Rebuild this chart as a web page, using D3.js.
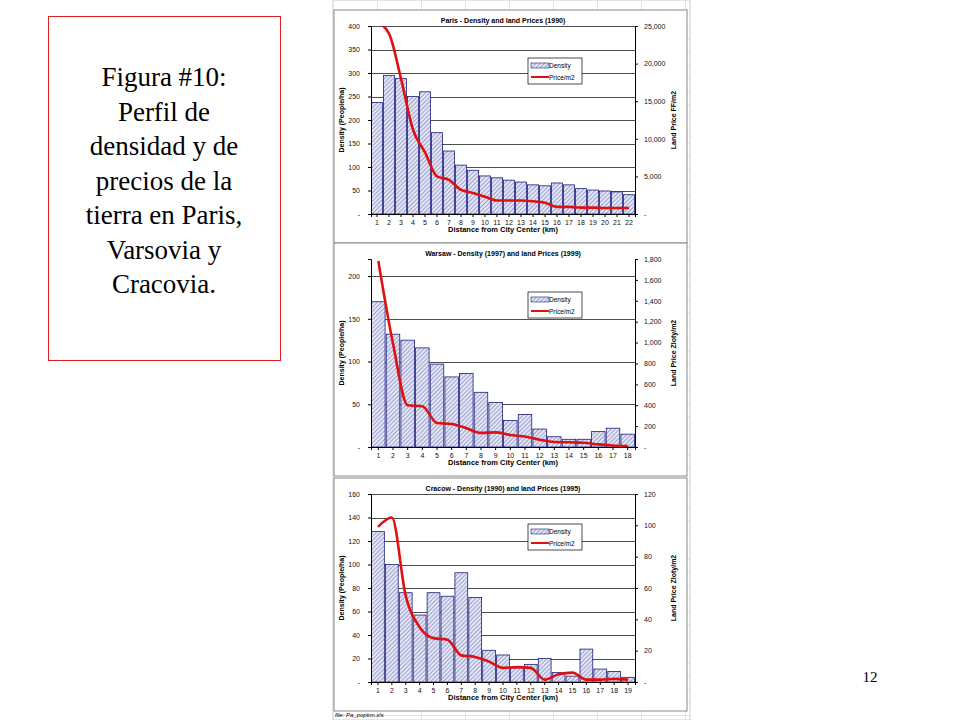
<!DOCTYPE html>
<html><head><meta charset="utf-8">
<script src="https://cdn.jsdelivr.net/npm/d3@7"></script>
<style>
body{margin:0;background:#fff;}
svg text{font-family:"Liberation Sans",Arial,sans-serif;}
</style></head>
<body><svg id="c" width="960" height="720"></svg>
<script>
// chart data
var parisDensity = [237,295,288,250,260,173,134,104,93,81,77,72,68,62,60,66,62,54,51,49,47,41];
var parisPrice = [25500,24000,18000,11200,8200,5000,4550,3200,2800,2300,1800,1800,1800,1700,1500,950,950,850,850,800,800,800];
var warsawDensity = [170,132,125,116,97,82,86,64,52,31,38,21,12,9,9,18,22,15];
var warsawPrice = [1780,990,400,390,230,220,180,135,140,115,100,70,48,45,40,25,15,10];
var cracowDensity = [128,100,76,57,76,73,93,72,27,23,12,15,20,8,5,28,11,9,4];
var cracowPrice = [99,105,55,35,28,27,17,16,13,9,9.5,9,1.5,5,6,1.5,1.5,2,1.5];

var captionLines = ["Figura #10:", "Perfil de", "densidad y de", "precios de la", "tierra en Paris,", "Varsovia y", "Cracovia."];

var panels = [
  {title:"Paris - Density and land Prices (1990)", density:parisDensity, price:parisPrice,
   top:10, leftMax:400, leftTicks:[0,50,100,150,200,250,300,350,400], rightMax:25000, rightTicks:[0,5000,10000,15000,20000,25000],
   rightLabel:"Land Price FF/m2", legendY:58},
  {title:"Warsaw - Density (1997) and land Prices (1999)", density:warsawDensity, price:warsawPrice,
   top:243, leftMax:220, leftTicks:[0,50,100,150,200], rightMax:1800, rightTicks:[0,200,400,600,800,1000,1200,1400,1600,1800],
   rightLabel:"Land Price Zloty/m2", legendY:292},
  {title:"Cracow - Density (1990) and land Prices (1995)", density:cracowDensity, price:cracowPrice,
   top:478, leftMax:160, leftTicks:[0,20,40,60,80,100,120,140,160], rightMax:120, rightTicks:[0,20,40,60,80,100,120],
   rightLabel:"Land Price Zloty/m2", legendY:524}
];

var svg = d3.select("#c");
var defs = svg.append("defs");
var pat = defs.append("pattern").attr("id","hatch").attr("patternUnits","userSpaceOnUse")
  .attr("width",3).attr("height",3).attr("patternTransform","rotate(45)");
pat.append("rect").attr("width",3).attr("height",3).attr("fill","#e4e6f6");
pat.append("line").attr("x1",0).attr("y1",0).attr("x2",0).attr("y2",3).attr("stroke","#6f74b8").attr("stroke-width",1.2);

// caption box
svg.append("rect").attr("x",48.5).attr("y",16.5).attr("width",232).attr("height",344)
  .attr("fill","none").attr("stroke","#d22").attr("stroke-width",1);
svg.selectAll("text.cap").data(captionLines).enter().append("text").attr("class","cap")
  .attr("x",164).attr("y",function(d,i){ return 86 + i*34.5; })
  .attr("text-anchor","middle").style("font-family","'Liberation Serif','Times New Roman',serif")
  .style("font-size","27px").text(function(d){ return d; });

svg.append("text").attr("x",870).attr("y",682).attr("text-anchor","middle")
  .style("font-family","'Liberation Serif',serif").style("font-size","15px").text("12");

// spreadsheet background
svg.append("rect").attr("x",333).attr("y",0).attr("width",357).attr("height",720).attr("fill","#fff").attr("stroke","#ccc");
for (var gy = 0; gy < 720; gy += 13) {
  svg.append("line").attr("x1",333).attr("x2",690).attr("y1",gy+0.5).attr("y2",gy+0.5).attr("stroke","#e3e3e3");
}
[377,421,465,509,553,597,641,685].forEach(function(gx){
  svg.append("line").attr("x1",gx+0.5).attr("x2",gx+0.5).attr("y1",0).attr("y2",720).attr("stroke","#e3e3e3");
});

panels.forEach(function(p, pi) {
  var g = svg.append("g");
  g.append("rect").attr("x",334).attr("y",p.top).attr("width",353).attr("height",233)
    .attr("fill","#fff").attr("stroke","#888");
  var x0 = 371, x1 = 635, y0 = p.top + 16, y1 = p.top + 204;
  var cats = d3.range(1, p.density.length + 1);
  var x = d3.scaleBand().domain(cats).range([x0, x1]).paddingInner(0.08).paddingOuter(0.04);
  var yl = d3.scaleLinear().domain([0, p.leftMax]).range([y1, y0]);
  var yr = d3.scaleLinear().domain([0, p.rightMax]).range([y1, y0]);

  // gridlines
  g.selectAll("line.grid").data(p.leftTicks.filter(function(t){ return t > 0; })).enter().append("line")
    .attr("x1",x0).attr("x2",x1).attr("y1",function(d){ return Math.round(yl(d))+0.5; })
    .attr("y2",function(d){ return Math.round(yl(d))+0.5; }).attr("stroke","#000").attr("stroke-width",0.7);

  g.selectAll("rect.bar").data(p.density).enter().append("rect")
    .attr("x",function(d,i){ return x(i+1); }).attr("width",x.bandwidth())
    .attr("y",function(d){ return yl(d); }).attr("height",function(d){ return y1 - yl(d); })
    .attr("fill","url(#hatch)").attr("stroke","#1c1f7a").attr("stroke-width",0.8);

  var clipId = "clip" + pi;
  defs.append("clipPath").attr("id",clipId).append("rect").attr("x",x0).attr("y",y0).attr("width",x1-x0).attr("height",y1-y0);
  var line = d3.line().x(function(d,i){ return x(i+1) + x.bandwidth()/2; }).y(function(d){ return yr(d); })
    .curve(d3.curveMonotoneX);
  g.append("path").datum(p.price).attr("d",line).attr("fill","none").attr("stroke","#e01010")
    .attr("stroke-width",2.6).attr("clip-path","url(#"+clipId+")");

  // axes
  var fmt = function(d){ return d === 0 ? "-" : d3.format(",")(d); };
  var la = g.append("g").attr("transform","translate("+x0+",0)")
    .call(d3.axisLeft(yl).tickValues(p.leftTicks).tickFormat(fmt).tickSize(3).tickPadding(8));
  var ra = g.append("g").attr("transform","translate("+x1+",0)")
    .call(d3.axisRight(yr).tickValues(p.rightTicks).tickFormat(fmt).tickSize(3).tickPadding(6));
  var ba = g.append("g").attr("transform","translate(0,"+y1+")")
    .call(d3.axisBottom(x).tickSize(3).tickPadding(3));
  [la, ra, ba].forEach(function(a){
    a.selectAll("text").style("font-size","7px").attr("fill","#111");
    a.select(".domain").attr("stroke","#000");
  });

  g.append("text").attr("x",(x0+x1)/2).attr("y",p.top+13).attr("text-anchor","middle")
    .style("font-size","7px").style("font-weight","bold").text(p.title);
  g.append("text").attr("x",(x0+x1)/2).attr("y",y1+18).attr("text-anchor","middle")
    .style("font-size","7.5px").style("font-weight","bold").text("Distance from City Center (km)");
  g.append("text").attr("transform","translate(344,"+((y0+y1)/2)+") rotate(-90)").attr("text-anchor","middle")
    .style("font-size","7px").style("font-weight","bold").text("Density (People/ha)");
  g.append("text").attr("transform","translate(676,"+((y0+y1)/2)+") rotate(-90)").attr("text-anchor","middle")
    .style("font-size","7px").style("font-weight","bold").text(p.rightLabel);

  // legend
  var lg = g.append("g").attr("transform","translate(528,"+p.legendY+")");
  lg.append("rect").attr("width",54).attr("height",26).attr("fill","#fff").attr("stroke","#000").attr("stroke-width",0.7);
  lg.append("rect").attr("x",3).attr("y",5).attr("width",18).attr("height",5).attr("fill","url(#hatch)").attr("stroke","#1c1f7a").attr("stroke-width",0.6);
  lg.append("text").attr("x",21).attr("y",10).style("font-size","6.5px").text("Density");
  lg.append("line").attr("x1",3).attr("x2",21).attr("y1",19).attr("y2",19).attr("stroke","#e01010").attr("stroke-width",2);
  lg.append("text").attr("x",21).attr("y",21.5).style("font-size","6.5px").text("Price/m2");
});

svg.append("text").attr("x",335).attr("y",717).style("font-size","6px").style("font-style","italic").text("file: Pa_popkm.xls");
</script></body></html>
